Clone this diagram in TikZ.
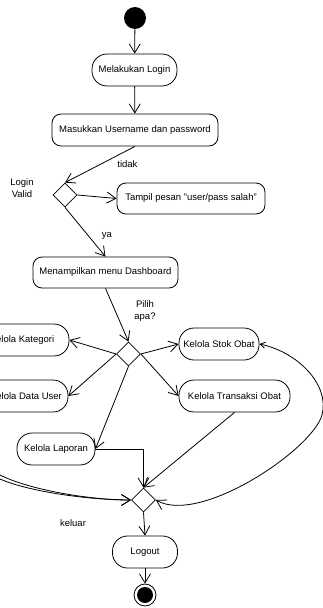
\documentclass[tikz,border=0pt]{standalone}
\usepackage{fontspec}
\setmainfont{Liberation Sans}
\usepackage{tikz}
\usetikzlibrary{arrows.meta,positioning,shapes.geometric}

\begin{document}
\begin{tikzpicture}[>={Straight Barb[length=9pt,width=11pt]},x=1pt,y=-1pt,line width=0.8pt,
  every node/.style={font=\fontsize{9.5}{12}\selectfont}]
\tikzstyle{act}=[draw,fill=white,rounded corners=15pt,minimum height=32pt,inner sep=2pt,align=center]
\tikzstyle{wideact}=[act,rounded corners=9pt]
\tikzstyle{choice}=[draw,fill=white,diamond,aspect=1,minimum width=24pt,minimum height=24pt,inner sep=0pt]
\tikzstyle{note}=[align=center,inner sep=0pt]
\useasboundingbox (0,0) rectangle (323,608);
\node[circle,fill=black,minimum size=22pt,inner sep=0pt] (start) at (135,18) {};
\node[act,minimum width=85pt] (login) at (134.5,70) {Melakukan Login};
\node[wideact,minimum width=166pt] (masuk) at (135,130) {Masukkan Username dan password};
\node[choice] (cekvalid) at (65,195) {};
\node[note] (validlbl) at (22,188) {Login\\Valid};
\node[wideact,minimum width=148pt,minimum height=31pt] (tampil) at (191,198.5) {Tampil pesan "user/pass salah"};
\node[wideact,minimum width=145pt,minimum height=31pt] (dash) at (105.5,272.5) {Menampilkan menu Dashboard};
\node[choice] (pilih) at (128.5,354) {};
\node[note] (pilihlbl) at (145,311) {Pilih\\apa?};
\node[act,minimum width=94pt] (kategori) at (22,340) {Kelola Kategori};
\node[act,minimum width=84pt] (datauser) at (26,396) {Kelola Data User};
\node[act,minimum width=78pt] (laporan) at (56,449) {Kelola Laporan};
\node[act,minimum width=80pt] (stok) at (219,344) {Kelola Stok Obat};
\node[act,minimum width=111pt] (transaksi) at (234.5,396) {Kelola Transaksi Obat};
\node[choice] (gabung) at (143.5,500) {};
\node[note] (keluarlbl) at (73,523) {keluar};
\node[act,minimum width=65pt] (logout) at (145,552) {Logout};
\node[circle,draw,fill=white,minimum size=22pt,inner sep=0pt] (finish) at (145,595) {};
\fill (finish.center) circle (8pt);
% alur utama
\draw[->] (start) -- (login);
\draw[->] (login) -- (masuk);
\draw[->] (masuk.south) -- node[note,right=17pt]{tidak} (cekvalid.north);
\draw[->] (cekvalid.east) -- (tampil.west);
\draw[->] (cekvalid.south) -- node[note,pos=0.58,right=13pt]{ya} (dash.north);
\draw[->] (dash.south) -- (pilih.north);
% pilihan menu
\draw[->] (pilih.west) -- (kategori.east);
\draw[->] (pilih.west) -- (datauser.east);
\draw[->] (pilih.south) -- (laporan.east);
\draw[->] (pilih.east) -- (stok.west);
\draw[->] (pilih.east) -- (transaksi.west);
% kembali ke gabung
\draw[->] (laporan.east) -| (gabung.north);
\draw[->] (transaksi.south) -- (gabung.north);
\draw[{Straight Barb[length=5pt,width=6pt]}->] (stok.east) .. controls (298,352) and (330,385) .. (322,415) .. controls (312,450) and (200,525) .. (gabung.east);
\draw[->] (kategori.west) .. controls (-70,345) and (-45,458) .. (0,475) .. controls (30,490) and (90,500) .. (gabung.west);
\draw[->] (datauser.west) .. controls (-50,400) and (-42,462) .. (0,479) .. controls (30,492) and (90,500) .. (gabung.west);
\draw[->] (gabung.south) -- (logout.north);
\draw[->] (logout) -- (finish);
\end{tikzpicture}
\end{document}
